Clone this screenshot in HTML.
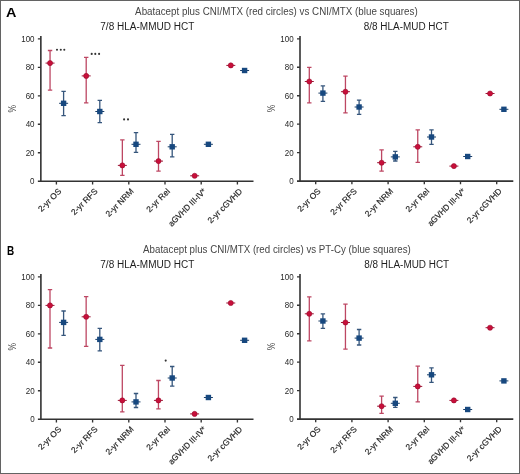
<!DOCTYPE html>
<html><head><meta charset="utf-8"><style>
html,body{margin:0;padding:0;background:#fff;}
body{width:520px;height:474px;overflow:hidden;}
svg{display:block;will-change:transform;}
text{font-family:"Liberation Sans", sans-serif;}
.yl{font-size:9.2px;fill:#262626;}
.pc{font-size:10.5px;fill:#4a4a4a;}
.xl{font-size:8.4px;fill:#262626;stroke:#262626;stroke-width:0.18px;}
.pl{font-size:12px;font-weight:bold;fill:#000;}
.t1{font-size:10.1px;fill:#454545;}
.t2{font-size:10px;fill:#1e1e1e;}
</style></head><body>
<svg width="520" height="474" viewBox="0 0 520 474">
<rect x="0.5" y="0.5" width="519" height="473" fill="#fff" stroke="#636363" stroke-width="1"/>
<path d="M40.85 36V181.2M37.85 181.2H253.5" stroke="#333333" stroke-width="1.6" fill="none"/>
<path d="M37.85 152.74H40.85M37.85 124.28H40.85M37.85 95.82H40.85M37.85 67.36H40.85M37.85 38.9H40.85M56.4 181.2V184.4M92.6 181.2V184.4M128.8 181.2V184.4M165 181.2V184.4M201.2 181.2V184.4M237.4 181.2V184.4" stroke="#333333" stroke-width="1.35" fill="none"/>
<text transform="translate(34.55,184.2) scale(0.87,1)" text-anchor="end" class="yl">0</text>
<text transform="translate(34.55,155.74) scale(0.87,1)" text-anchor="end" class="yl">20</text>
<text transform="translate(34.55,127.28) scale(0.87,1)" text-anchor="end" class="yl">40</text>
<text transform="translate(34.55,98.82) scale(0.87,1)" text-anchor="end" class="yl">60</text>
<text transform="translate(34.55,70.36) scale(0.87,1)" text-anchor="end" class="yl">80</text>
<text transform="translate(34.55,41.9) scale(0.87,1)" text-anchor="end" class="yl">100</text>
<text transform="translate(15.65,108.7) rotate(-90) scale(0.8,1)" text-anchor="middle" class="pc">%</text>
<text transform="translate(61.9,191.9) rotate(-45)" text-anchor="end" class="xl">2-yr OS</text>
<text transform="translate(98.1,191.9) rotate(-45)" text-anchor="end" class="xl">2-yr RFS</text>
<text transform="translate(134.3,191.9) rotate(-45)" text-anchor="end" class="xl">2-yr NRM</text>
<text transform="translate(170.5,191.9) rotate(-45)" text-anchor="end" class="xl">2-yr Rel</text>
<text transform="translate(206.7,191.9) rotate(-45)" text-anchor="end" class="xl" textLength="49.6" lengthAdjust="spacingAndGlyphs">aGVHD III-IV*</text>
<text transform="translate(242.9,191.9) rotate(-45)" text-anchor="end" class="xl">2-yr cGVHD</text>
<path d="M50.05 50.5V90.1M47.85 50.5H52.25M47.85 90.1H52.25" stroke="#bd4763" stroke-width="1.3" fill="none"/>
<path d="M45.55 63.1H54.55" stroke="#9c1836" stroke-width="1"/>
<circle cx="50.05" cy="63.1" r="2.55" fill="#c80f3a" stroke="#980b2e" stroke-width="0.6"/>
<path d="M63.6 91.3V115.6M61.4 91.3H65.8M61.4 115.6H65.8" stroke="#36567c" stroke-width="1.3" fill="none"/>
<path d="M59.1 103.3H68.1" stroke="#1c3f66" stroke-width="1"/>
<rect x="60.9" y="100.6" width="5.4" height="5.4" fill="#17487f"/>
<path d="M86.2 57.4V102.8M84 57.4H88.4M84 102.8H88.4" stroke="#bd4763" stroke-width="1.3" fill="none"/>
<path d="M81.7 75.9H90.7" stroke="#9c1836" stroke-width="1"/>
<circle cx="86.2" cy="75.9" r="2.55" fill="#c80f3a" stroke="#980b2e" stroke-width="0.6"/>
<path d="M99.8 100.3V122.6M97.6 100.3H102M97.6 122.6H102" stroke="#36567c" stroke-width="1.3" fill="none"/>
<path d="M95.3 111.5H104.3" stroke="#1c3f66" stroke-width="1"/>
<rect x="97.1" y="108.8" width="5.4" height="5.4" fill="#17487f"/>
<path d="M122.35 139.9V175.3M120.15 139.9H124.55M120.15 175.3H124.55" stroke="#bd4763" stroke-width="1.3" fill="none"/>
<path d="M117.85 165.4H126.85" stroke="#9c1836" stroke-width="1"/>
<circle cx="122.35" cy="165.4" r="2.55" fill="#c80f3a" stroke="#980b2e" stroke-width="0.6"/>
<path d="M136 132.6V152.4M133.8 132.6H138.2M133.8 152.4H138.2" stroke="#36567c" stroke-width="1.3" fill="none"/>
<path d="M131.5 144.3H140.5" stroke="#1c3f66" stroke-width="1"/>
<rect x="133.3" y="141.6" width="5.4" height="5.4" fill="#17487f"/>
<path d="M158.5 141.4V171.1M156.3 141.4H160.7M156.3 171.1H160.7" stroke="#bd4763" stroke-width="1.3" fill="none"/>
<path d="M154 161.1H163" stroke="#9c1836" stroke-width="1"/>
<circle cx="158.5" cy="161.1" r="2.55" fill="#c80f3a" stroke="#980b2e" stroke-width="0.6"/>
<path d="M172.2 134.3V156.8M170 134.3H174.4M170 156.8H174.4" stroke="#36567c" stroke-width="1.3" fill="none"/>
<path d="M167.7 146.8H176.7" stroke="#1c3f66" stroke-width="1"/>
<rect x="169.5" y="144.1" width="5.4" height="5.4" fill="#17487f"/>
<path d="M190.15 175.8H199.15" stroke="#9c1836" stroke-width="1"/>
<circle cx="194.65" cy="175.8" r="2.55" fill="#c80f3a" stroke="#980b2e" stroke-width="0.6"/>
<path d="M203.9 144.3H212.9" stroke="#1c3f66" stroke-width="1"/>
<rect x="205.7" y="141.6" width="5.4" height="5.4" fill="#17487f"/>
<path d="M226.3 65.4H235.3" stroke="#9c1836" stroke-width="1"/>
<circle cx="230.8" cy="65.4" r="2.55" fill="#c80f3a" stroke="#980b2e" stroke-width="0.6"/>
<path d="M240.1 70.5H249.1" stroke="#1c3f66" stroke-width="1"/>
<rect x="241.9" y="67.8" width="5.4" height="5.4" fill="#17487f"/>
<path d="M300 35.9V181.1M297 181.1H513.3" stroke="#333333" stroke-width="1.6" fill="none"/>
<path d="M297 152.64H300M297 124.18H300M297 95.72H300M297 67.26H300M297 38.8H300M315.7 181.1V184.3M351.9 181.1V184.3M388.1 181.1V184.3M424.3 181.1V184.3M460.5 181.1V184.3M496.7 181.1V184.3" stroke="#333333" stroke-width="1.35" fill="none"/>
<text transform="translate(293.7,184.1) scale(0.87,1)" text-anchor="end" class="yl">0</text>
<text transform="translate(293.7,155.64) scale(0.87,1)" text-anchor="end" class="yl">20</text>
<text transform="translate(293.7,127.18) scale(0.87,1)" text-anchor="end" class="yl">40</text>
<text transform="translate(293.7,98.72) scale(0.87,1)" text-anchor="end" class="yl">60</text>
<text transform="translate(293.7,70.26) scale(0.87,1)" text-anchor="end" class="yl">80</text>
<text transform="translate(293.7,41.8) scale(0.87,1)" text-anchor="end" class="yl">100</text>
<text transform="translate(274.8,108.6) rotate(-90) scale(0.8,1)" text-anchor="middle" class="pc">%</text>
<text transform="translate(321.2,191.8) rotate(-45)" text-anchor="end" class="xl">2-yr OS</text>
<text transform="translate(357.4,191.8) rotate(-45)" text-anchor="end" class="xl">2-yr RFS</text>
<text transform="translate(393.6,191.8) rotate(-45)" text-anchor="end" class="xl">2-yr NRM</text>
<text transform="translate(429.8,191.8) rotate(-45)" text-anchor="end" class="xl">2-yr Rel</text>
<text transform="translate(466,191.8) rotate(-45)" text-anchor="end" class="xl" textLength="49.6" lengthAdjust="spacingAndGlyphs">aGVHD III-IV*</text>
<text transform="translate(502.2,191.8) rotate(-45)" text-anchor="end" class="xl">2-yr cGVHD</text>
<path d="M309.3 67.4V102.9M307.1 67.4H311.5M307.1 102.9H311.5" stroke="#bd4763" stroke-width="1.3" fill="none"/>
<path d="M304.8 81.5H313.8" stroke="#9c1836" stroke-width="1"/>
<circle cx="309.3" cy="81.5" r="2.55" fill="#c80f3a" stroke="#980b2e" stroke-width="0.6"/>
<path d="M322.9 85.9V101.4M320.7 85.9H325.1M320.7 101.4H325.1" stroke="#36567c" stroke-width="1.3" fill="none"/>
<path d="M318.4 93.1H327.4" stroke="#1c3f66" stroke-width="1"/>
<rect x="320.2" y="90.4" width="5.4" height="5.4" fill="#17487f"/>
<path d="M345.45 76.1V112.8M343.25 76.1H347.65M343.25 112.8H347.65" stroke="#bd4763" stroke-width="1.3" fill="none"/>
<path d="M340.95 91.7H349.95" stroke="#9c1836" stroke-width="1"/>
<circle cx="345.45" cy="91.7" r="2.55" fill="#c80f3a" stroke="#980b2e" stroke-width="0.6"/>
<path d="M359.1 100.2V114.3M356.9 100.2H361.3M356.9 114.3H361.3" stroke="#36567c" stroke-width="1.3" fill="none"/>
<path d="M354.6 107H363.6" stroke="#1c3f66" stroke-width="1"/>
<rect x="356.4" y="104.3" width="5.4" height="5.4" fill="#17487f"/>
<path d="M381.6 149.8V171.1M379.4 149.8H383.8M379.4 171.1H383.8" stroke="#bd4763" stroke-width="1.3" fill="none"/>
<path d="M377.1 162.7H386.1" stroke="#9c1836" stroke-width="1"/>
<circle cx="381.6" cy="162.7" r="2.55" fill="#c80f3a" stroke="#980b2e" stroke-width="0.6"/>
<path d="M395.3 151.4V161M393.1 151.4H397.5M393.1 161H397.5" stroke="#36567c" stroke-width="1.3" fill="none"/>
<path d="M390.8 156.9H399.8" stroke="#1c3f66" stroke-width="1"/>
<rect x="392.6" y="154.2" width="5.4" height="5.4" fill="#17487f"/>
<path d="M417.75 129.9V162.3M415.55 129.9H419.95M415.55 162.3H419.95" stroke="#bd4763" stroke-width="1.3" fill="none"/>
<path d="M413.25 146.8H422.25" stroke="#9c1836" stroke-width="1"/>
<circle cx="417.75" cy="146.8" r="2.55" fill="#c80f3a" stroke="#980b2e" stroke-width="0.6"/>
<path d="M431.5 129.9V144.3M429.3 129.9H433.7M429.3 144.3H433.7" stroke="#36567c" stroke-width="1.3" fill="none"/>
<path d="M427 137H436" stroke="#1c3f66" stroke-width="1"/>
<rect x="428.8" y="134.3" width="5.4" height="5.4" fill="#17487f"/>
<path d="M449.4 166.1H458.4" stroke="#9c1836" stroke-width="1"/>
<circle cx="453.9" cy="166.1" r="2.55" fill="#c80f3a" stroke="#980b2e" stroke-width="0.6"/>
<path d="M463.2 156.5H472.2" stroke="#1c3f66" stroke-width="1"/>
<rect x="465" y="153.8" width="5.4" height="5.4" fill="#17487f"/>
<path d="M485.55 93.5H494.55" stroke="#9c1836" stroke-width="1"/>
<circle cx="490.05" cy="93.5" r="2.55" fill="#c80f3a" stroke="#980b2e" stroke-width="0.6"/>
<path d="M499.4 109.3H508.4" stroke="#1c3f66" stroke-width="1"/>
<rect x="501.2" y="106.6" width="5.4" height="5.4" fill="#17487f"/>
<path d="M40.9 274V419.2M37.9 419.2H253.5" stroke="#333333" stroke-width="1.6" fill="none"/>
<path d="M37.9 390.74H40.9M37.9 362.28H40.9M37.9 333.82H40.9M37.9 305.36H40.9M37.9 276.9H40.9M56.4 419.2V422.4M92.6 419.2V422.4M128.8 419.2V422.4M165 419.2V422.4M201.2 419.2V422.4M237.4 419.2V422.4" stroke="#333333" stroke-width="1.35" fill="none"/>
<text transform="translate(34.6,422.2) scale(0.87,1)" text-anchor="end" class="yl">0</text>
<text transform="translate(34.6,393.74) scale(0.87,1)" text-anchor="end" class="yl">20</text>
<text transform="translate(34.6,365.28) scale(0.87,1)" text-anchor="end" class="yl">40</text>
<text transform="translate(34.6,336.82) scale(0.87,1)" text-anchor="end" class="yl">60</text>
<text transform="translate(34.6,308.36) scale(0.87,1)" text-anchor="end" class="yl">80</text>
<text transform="translate(34.6,279.9) scale(0.87,1)" text-anchor="end" class="yl">100</text>
<text transform="translate(15.7,346.7) rotate(-90) scale(0.8,1)" text-anchor="middle" class="pc">%</text>
<text transform="translate(61.9,429.9) rotate(-45)" text-anchor="end" class="xl">2-yr OS</text>
<text transform="translate(98.1,429.9) rotate(-45)" text-anchor="end" class="xl">2-yr RFS</text>
<text transform="translate(134.3,429.9) rotate(-45)" text-anchor="end" class="xl">2-yr NRM</text>
<text transform="translate(170.5,429.9) rotate(-45)" text-anchor="end" class="xl">2-yr Rel</text>
<text transform="translate(206.7,429.9) rotate(-45)" text-anchor="end" class="xl" textLength="49.6" lengthAdjust="spacingAndGlyphs">aGVHD III-IV*</text>
<text transform="translate(242.9,429.9) rotate(-45)" text-anchor="end" class="xl">2-yr cGVHD</text>
<path d="M50 289.7V348M47.8 289.7H52.2M47.8 348H52.2" stroke="#bd4763" stroke-width="1.3" fill="none"/>
<path d="M45.5 305.4H54.5" stroke="#9c1836" stroke-width="1"/>
<circle cx="50" cy="305.4" r="2.55" fill="#c80f3a" stroke="#980b2e" stroke-width="0.6"/>
<path d="M63.6 311V335.3M61.4 311H65.8M61.4 335.3H65.8" stroke="#36567c" stroke-width="1.3" fill="none"/>
<path d="M59.1 322.4H68.1" stroke="#1c3f66" stroke-width="1"/>
<rect x="60.9" y="319.7" width="5.4" height="5.4" fill="#17487f"/>
<path d="M86.15 296.7V346.4M83.95 296.7H88.35M83.95 346.4H88.35" stroke="#bd4763" stroke-width="1.3" fill="none"/>
<path d="M81.65 316.8H90.65" stroke="#9c1836" stroke-width="1"/>
<circle cx="86.15" cy="316.8" r="2.55" fill="#c80f3a" stroke="#980b2e" stroke-width="0.6"/>
<path d="M99.8 328.3V350.8M97.6 328.3H102M97.6 350.8H102" stroke="#36567c" stroke-width="1.3" fill="none"/>
<path d="M95.3 339.4H104.3" stroke="#1c3f66" stroke-width="1"/>
<rect x="97.1" y="336.7" width="5.4" height="5.4" fill="#17487f"/>
<path d="M122.3 365.3V411.9M120.1 365.3H124.5M120.1 411.9H124.5" stroke="#bd4763" stroke-width="1.3" fill="none"/>
<path d="M117.8 400.4H126.8" stroke="#9c1836" stroke-width="1"/>
<circle cx="122.3" cy="400.4" r="2.55" fill="#c80f3a" stroke="#980b2e" stroke-width="0.6"/>
<path d="M136 393.5V407.5M133.8 393.5H138.2M133.8 407.5H138.2" stroke="#36567c" stroke-width="1.3" fill="none"/>
<path d="M131.5 401.9H140.5" stroke="#1c3f66" stroke-width="1"/>
<rect x="133.3" y="399.2" width="5.4" height="5.4" fill="#17487f"/>
<path d="M158.45 380.5V408.9M156.25 380.5H160.65M156.25 408.9H160.65" stroke="#bd4763" stroke-width="1.3" fill="none"/>
<path d="M153.95 400.4H162.95" stroke="#9c1836" stroke-width="1"/>
<circle cx="158.45" cy="400.4" r="2.55" fill="#c80f3a" stroke="#980b2e" stroke-width="0.6"/>
<path d="M172.2 366.5V386.1M170 366.5H174.4M170 386.1H174.4" stroke="#36567c" stroke-width="1.3" fill="none"/>
<path d="M167.7 378H176.7" stroke="#1c3f66" stroke-width="1"/>
<rect x="169.5" y="375.3" width="5.4" height="5.4" fill="#17487f"/>
<path d="M190.1 413.9H199.1" stroke="#9c1836" stroke-width="1"/>
<circle cx="194.6" cy="413.9" r="2.55" fill="#c80f3a" stroke="#980b2e" stroke-width="0.6"/>
<path d="M203.9 397.5H212.9" stroke="#1c3f66" stroke-width="1"/>
<rect x="205.7" y="394.8" width="5.4" height="5.4" fill="#17487f"/>
<path d="M226.25 303H235.25" stroke="#9c1836" stroke-width="1"/>
<circle cx="230.75" cy="303" r="2.55" fill="#c80f3a" stroke="#980b2e" stroke-width="0.6"/>
<path d="M240.1 340.3H249.1" stroke="#1c3f66" stroke-width="1"/>
<rect x="241.9" y="337.6" width="5.4" height="5.4" fill="#17487f"/>
<path d="M300 273.9V419.1M297 419.1H513.3" stroke="#333333" stroke-width="1.6" fill="none"/>
<path d="M297 390.64H300M297 362.18H300M297 333.72H300M297 305.26H300M297 276.8H300M315.7 419.1V422.3M351.9 419.1V422.3M388.1 419.1V422.3M424.3 419.1V422.3M460.5 419.1V422.3M496.7 419.1V422.3" stroke="#333333" stroke-width="1.35" fill="none"/>
<text transform="translate(293.7,422.1) scale(0.87,1)" text-anchor="end" class="yl">0</text>
<text transform="translate(293.7,393.64) scale(0.87,1)" text-anchor="end" class="yl">20</text>
<text transform="translate(293.7,365.18) scale(0.87,1)" text-anchor="end" class="yl">40</text>
<text transform="translate(293.7,336.72) scale(0.87,1)" text-anchor="end" class="yl">60</text>
<text transform="translate(293.7,308.26) scale(0.87,1)" text-anchor="end" class="yl">80</text>
<text transform="translate(293.7,279.8) scale(0.87,1)" text-anchor="end" class="yl">100</text>
<text transform="translate(274.8,346.6) rotate(-90) scale(0.8,1)" text-anchor="middle" class="pc">%</text>
<text transform="translate(321.2,429.8) rotate(-45)" text-anchor="end" class="xl">2-yr OS</text>
<text transform="translate(357.4,429.8) rotate(-45)" text-anchor="end" class="xl">2-yr RFS</text>
<text transform="translate(393.6,429.8) rotate(-45)" text-anchor="end" class="xl">2-yr NRM</text>
<text transform="translate(429.8,429.8) rotate(-45)" text-anchor="end" class="xl">2-yr Rel</text>
<text transform="translate(466,429.8) rotate(-45)" text-anchor="end" class="xl" textLength="49.6" lengthAdjust="spacingAndGlyphs">aGVHD III-IV*</text>
<text transform="translate(502.2,429.8) rotate(-45)" text-anchor="end" class="xl">2-yr cGVHD</text>
<path d="M309.3 296.9V340.8M307.1 296.9H311.5M307.1 340.8H311.5" stroke="#bd4763" stroke-width="1.3" fill="none"/>
<path d="M304.8 313.8H313.8" stroke="#9c1836" stroke-width="1"/>
<circle cx="309.3" cy="313.8" r="2.55" fill="#c80f3a" stroke="#980b2e" stroke-width="0.6"/>
<path d="M322.9 313.8V328.3M320.7 313.8H325.1M320.7 328.3H325.1" stroke="#36567c" stroke-width="1.3" fill="none"/>
<path d="M318.4 321H327.4" stroke="#1c3f66" stroke-width="1"/>
<rect x="320.2" y="318.3" width="5.4" height="5.4" fill="#17487f"/>
<path d="M345.45 304.1V349.2M343.25 304.1H347.65M343.25 349.2H347.65" stroke="#bd4763" stroke-width="1.3" fill="none"/>
<path d="M340.95 322.5H349.95" stroke="#9c1836" stroke-width="1"/>
<circle cx="345.45" cy="322.5" r="2.55" fill="#c80f3a" stroke="#980b2e" stroke-width="0.6"/>
<path d="M359.1 329.5V345M356.9 329.5H361.3M356.9 345H361.3" stroke="#36567c" stroke-width="1.3" fill="none"/>
<path d="M354.6 338.1H363.6" stroke="#1c3f66" stroke-width="1"/>
<rect x="356.4" y="335.4" width="5.4" height="5.4" fill="#17487f"/>
<path d="M381.6 396.2V413.3M379.4 396.2H383.8M379.4 413.3H383.8" stroke="#bd4763" stroke-width="1.3" fill="none"/>
<path d="M377.1 406.2H386.1" stroke="#9c1836" stroke-width="1"/>
<circle cx="381.6" cy="406.2" r="2.55" fill="#c80f3a" stroke="#980b2e" stroke-width="0.6"/>
<path d="M395.3 397.5V407.3M393.1 397.5H397.5M393.1 407.3H397.5" stroke="#36567c" stroke-width="1.3" fill="none"/>
<path d="M390.8 403.3H399.8" stroke="#1c3f66" stroke-width="1"/>
<rect x="392.6" y="400.6" width="5.4" height="5.4" fill="#17487f"/>
<path d="M417.75 366.1V401.9M415.55 366.1H419.95M415.55 401.9H419.95" stroke="#bd4763" stroke-width="1.3" fill="none"/>
<path d="M413.25 386.4H422.25" stroke="#9c1836" stroke-width="1"/>
<circle cx="417.75" cy="386.4" r="2.55" fill="#c80f3a" stroke="#980b2e" stroke-width="0.6"/>
<path d="M431.5 367.9V382.4M429.3 367.9H433.7M429.3 382.4H433.7" stroke="#36567c" stroke-width="1.3" fill="none"/>
<path d="M427 374.8H436" stroke="#1c3f66" stroke-width="1"/>
<rect x="428.8" y="372.1" width="5.4" height="5.4" fill="#17487f"/>
<path d="M449.4 400.4H458.4" stroke="#9c1836" stroke-width="1"/>
<circle cx="453.9" cy="400.4" r="2.55" fill="#c80f3a" stroke="#980b2e" stroke-width="0.6"/>
<path d="M463.2 409.5H472.2" stroke="#1c3f66" stroke-width="1"/>
<rect x="465" y="406.8" width="5.4" height="5.4" fill="#17487f"/>
<path d="M485.55 327.7H494.55" stroke="#9c1836" stroke-width="1"/>
<circle cx="490.05" cy="327.7" r="2.55" fill="#c80f3a" stroke="#980b2e" stroke-width="0.6"/>
<path d="M499.4 380.9H508.4" stroke="#1c3f66" stroke-width="1"/>
<rect x="501.2" y="378.2" width="5.4" height="5.4" fill="#17487f"/>
<circle cx="57.0" cy="49.7" r="1.05" fill="#333"/>
<circle cx="60.8" cy="49.7" r="1.05" fill="#333"/>
<circle cx="64.3" cy="49.7" r="1.05" fill="#333"/>
<circle cx="91.7" cy="53.9" r="1.05" fill="#333"/>
<circle cx="95.3" cy="53.9" r="1.05" fill="#333"/>
<circle cx="99.1" cy="53.9" r="1.05" fill="#333"/>
<circle cx="124.1" cy="119.4" r="1.05" fill="#333"/>
<circle cx="128.0" cy="119.4" r="1.05" fill="#333"/>
<circle cx="165.7" cy="360.6" r="1.05" fill="#333"/>
<text transform="translate(6.1,16.8) scale(1.2,1)" class="pl">A</text>
<text transform="translate(7.1,254.7) scale(0.83,1)" class="pl">B</text>
<text x="135.1" y="14.5" class="t1" textLength="282.6" lengthAdjust="spacingAndGlyphs">Abatacept plus CNI/MTX (red circles) vs CNI/MTX (blue squares)</text>
<text x="143.1" y="252.9" class="t1" textLength="267.7" lengthAdjust="spacingAndGlyphs">Abatacept plus CNI/MTX (red circles) vs PT-Cy (blue squares)</text>
<text x="100.3" y="30.2" class="t2" textLength="94" lengthAdjust="spacingAndGlyphs">7/8 HLA-MMUD HCT</text>
<text x="363.8" y="30.2" class="t2" textLength="85" lengthAdjust="spacingAndGlyphs">8/8 HLA-MUD HCT</text>
<text x="100.3" y="268.2" class="t2" textLength="94" lengthAdjust="spacingAndGlyphs">7/8 HLA-MMUD HCT</text>
<text x="364.2" y="268.2" class="t2" textLength="85" lengthAdjust="spacingAndGlyphs">8/8 HLA-MUD HCT</text>
</svg>
</body></html>
